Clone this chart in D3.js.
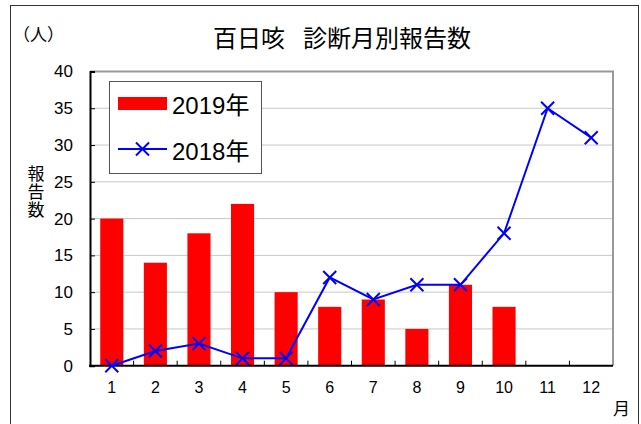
<!DOCTYPE html>
<html>
<head>
<meta charset="utf-8">
<script src="https://cdn.jsdelivr.net/npm/d3@7"></script>
<style>
    body { margin: 0; background: #fff; }
    text { font-family: "Liberation Sans", "Noto Sans CJK JP", sans-serif; fill: #000; }
</style>
</head>
<body>
<script>
// Chart data
var months = [1, 2, 3, 4, 5, 6, 7, 8, 9, 10, 11, 12];
var cases2019 = [20, 14, 18, 22, 10, 8, 9, 5, 11, 8];
var cases2018 = [0, 2, 3, 1, 1, 12, 9, 11, 11, 18, 35, 31];
var yTicks = [0, 5, 10, 15, 20, 25, 30, 35, 40];

window.onload = function(){

    var w = 641, h = 424;
    var left = 90, right = 613, top = 71.5, bottom = 365.7;

    var svg = d3.select("body")
        .append("svg")
        .attr("width", w)
        .attr("height", h)
        .attr("class", "container");

    // Outer frame (bottom runs off the picture)
    svg.append("rect")
        .attr("x", 10.5)
        .attr("y", 5.5)
        .attr("width", 628)
        .attr("height", 440)
        .style("fill", "#fff")
        .style("stroke", "#333")
        .style("stroke-width", 1);

    var x = d3.scaleBand()
        .domain(months)
        .range([left, right]);

    var y = d3.scaleLinear()
        .domain([0, 40])
        .range([bottom, top]);

    // Gridlines
    svg.selectAll(".grid")
        .data(yTicks.slice(1, -1))
        .enter()
        .append("line")
        .attr("class", "grid")
        .attr("x1", left)
        .attr("x2", right)
        .attr("y1", function(d){ return y(d); })
        .attr("y2", function(d){ return y(d); })
        .style("stroke", "#c8c8c8")
        .style("stroke-width", 1);

    // Top and right border of plot area
    svg.append("path")
        .attr("d", "M" + left + "," + top + "H" + right + "V" + bottom)
        .style("fill", "none")
        .style("stroke", "#999")
        .style("stroke-width", 2);

    // Bars
    var barW = x.bandwidth() * 0.53;
    svg.selectAll(".bar")
        .data(cases2019)
        .enter()
        .append("rect")
        .attr("class", "bar")
        .attr("x", function(d, i){ return x(months[i]) + (x.bandwidth() - barW) / 2; })
        .attr("y", function(d){ return y(d); })
        .attr("width", barW)
        .attr("height", function(d){ return bottom - y(d); })
        .style("fill", "#ff0000");

    // Y axis
    var yAxis = d3.axisLeft(y)
        .tickValues(yTicks)
        .tickSize(-5)
        .tickPadding(17);
    var ya = svg.append("g")
        .attr("class", "axis")
        .attr("transform", "translate(" + left + ",0)")
        .call(yAxis);
    ya.select(".domain").style("stroke", "#000").style("stroke-width", 2);
    ya.selectAll(".tick line").style("stroke", "#000");
    ya.selectAll("text").style("font-size", "17px");

    // X axis labels at band centres
    var xAxis = d3.axisBottom(x)
        .tickSize(0)
        .tickPadding(16);
    var xa = svg.append("g")
        .attr("class", "axis")
        .attr("transform", "translate(0," + bottom + ")")
        .call(xAxis);
    xa.select(".domain").remove();
    xa.selectAll("text").style("font-size", "16px");

    // X ticks at category boundaries
    svg.selectAll(".xtick")
        .data(months.slice(1))
        .enter()
        .append("line")
        .attr("class", "xtick")
        .attr("x1", function(d){ return x(d); })
        .attr("x2", function(d){ return x(d); })
        .attr("y1", bottom)
        .attr("y2", bottom - 5)
        .style("stroke", "#000");

    svg.append("line")
        .attr("x1", left - 1)
        .attr("x2", right)
        .attr("y1", bottom)
        .attr("y2", bottom)
        .style("stroke", "#000")
        .style("stroke-width", 2);

    // 2018 line
    var cx = function(i){ return x(months[i]) + x.bandwidth() / 2; };
    var line = d3.line()
        .x(function(d, i){ return cx(i); })
        .y(function(d){ return y(d); });

    svg.append("path")
        .datum(cases2018)
        .attr("d", line)
        .style("fill", "none")
        .style("stroke", "#0000ff")
        .style("stroke-width", 2);

    var m = 6.5;
    var cross = function(px, py){
        return "M" + (px - m) + "," + (py - m) + "L" + (px + m) + "," + (py + m) +
               "M" + (px - m) + "," + (py + m) + "L" + (px + m) + "," + (py - m);
    };
    svg.selectAll(".marker")
        .data(cases2018)
        .enter()
        .append("path")
        .attr("class", "marker")
        .attr("d", function(d, i){ return cross(cx(i), y(d)); })
        .style("stroke", "#0000ff")
        .style("stroke-width", 2);

    // Legend
    svg.append("rect")
        .attr("x", 109.5)
        .attr("y", 81.5)
        .attr("width", 152)
        .attr("height", 92)
        .style("fill", "#fff")
        .style("stroke", "#555");

    svg.append("rect")
        .attr("x", 118)
        .attr("y", 97)
        .attr("width", 49)
        .attr("height", 13)
        .style("fill", "#ff0000");
    svg.append("text")
        .attr("x", 172)
        .attr("y", 114)
        .style("font-size", "24px")
        .text("2019年");

    svg.append("line")
        .attr("x1", 118)
        .attr("x2", 167)
        .attr("y1", 149)
        .attr("y2", 149)
        .style("stroke", "#0000ff")
        .style("stroke-width", 2);
    svg.append("path")
        .attr("d", cross(142.5, 149))
        .style("stroke", "#0000ff")
        .style("stroke-width", 2);
    svg.append("text")
        .attr("x", 172)
        .attr("y", 160)
        .style("font-size", "24px")
        .text("2018年");

    // Title
    var title = svg.append("text")
        .attr("class", "title")
        .attr("text-anchor", "middle")
        .attr("x", 342)
        .attr("y", 47)
        .style("font-size", "24px");
    title.append("tspan").text("百日咳");
    title.append("tspan").attr("dx", 18).text("診断月別報告数");

    // Unit label
    svg.append("text")
        .attr("x", 13)
        .attr("y", 41)
        .style("font-size", "17px")
        .text("（人）");

    // Vertical y title
    svg.append("text")
        .attr("x", 36)
        .attr("y", 180)
        .attr("text-anchor", "middle")
        .style("font-size", "17px")
        .selectAll("tspan")
        .data(["報", "告", "数"])
        .enter()
        .append("tspan")
        .attr("x", 36)
        .attr("dy", function(d, i){ return i === 0 ? 0 : 18; })
        .text(function(d){ return d; });

    svg.append("text")
        .attr("x", 613)
        .attr("y", 415)
        .style("font-size", "17px")
        .text("月");
};
</script>
</body>
</html>
